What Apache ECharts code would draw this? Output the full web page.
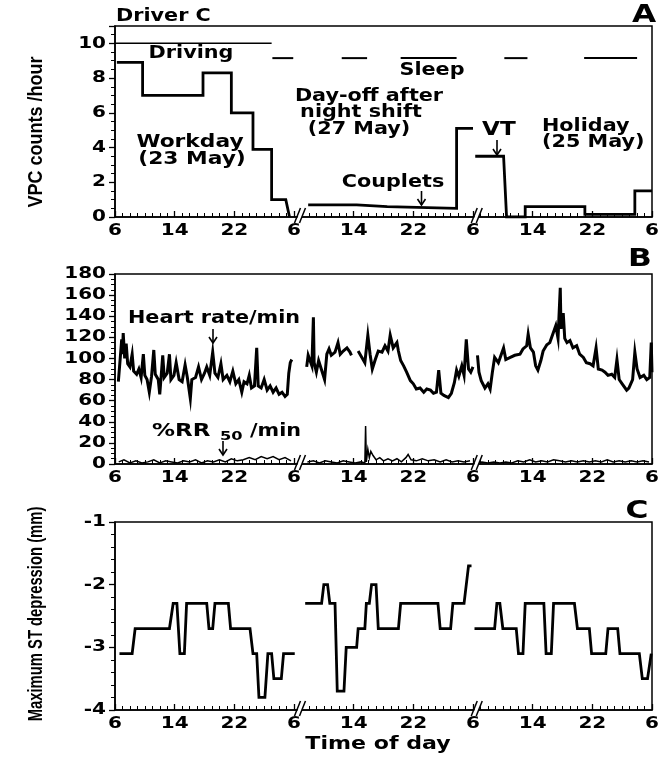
<!DOCTYPE html>
<html>
<head>
<meta charset="utf-8">
<script src="https://cdn.jsdelivr.net/npm/echarts@6/dist/echarts.min.js"></script>
<style>
  html, body { margin: 0; padding: 0; background: #fff; }
  #chart { width: 663px; height: 761px; }
</style>
</head>
<body>
<div id="chart"></div>
<script>
// Hours are counted from 06:00 of the first recording day (0..72 h, three 24 h records).
const xTickLabels = ['6', '14', '22', '6', '14', '22', '6', '14', '22', '6'];
const breakHours = [24.6, 48.3];

// Panel A: VPC counts per hour (stepwise), one array per recording
const vpcWorkday = [[0.25, 8.9], [3.7, 8.9], [3.7, 7.0], [11.8, 7.0], [11.8, 8.3], [15.6, 8.3], [15.6, 6.0],
  [18.5, 6.0], [18.5, 3.9], [21.0, 3.9], [21.0, 1.0], [22.9, 1.0], [23.4, 0]];
const vpcDayOff = [[25.9, 0.7], [32.4, 0.7], [32.4, 0.6], [36.5, 0.6], [36.5, 0.5], [45.8, 0.5], [45.8, 5.1], [48.0, 5.1]];
const vpcHoliday = [[48.3, 3.5], [52.1, 3.5], [52.5, 0], [55.0, 0], [55.0, 0.6], [63.0, 0.6], [63.0, 0.15],
  [69.7, 0.15], [69.7, 1.5], [72.0, 1.5]];
const drivingPeriods = [[0, 21.0]];
const drivingLevel = 10;
const sleepPeriods = [[21.1, 23.9], [30.4, 33.8], [38.3, 45.8], [52.2, 55.3], [62.9, 70.0]];
const sleepLevel = 9.15;

// Panel B: heart rate per minute
const hrWorkday = [[0.45, 78], [0.7, 100], [0.9, 118], [1.0, 104], [1.1, 124], [1.3, 100], [1.5, 114], [1.7, 95],
  [2.0, 92], [2.3, 104], [2.5, 88], [2.9, 85], [3.2, 90], [3.5, 82], [3.8, 104], [4.0, 84], [4.3, 80], [4.6, 68],
  [4.9, 83], [5.2, 108], [5.4, 85], [5.8, 80], [6.0, 66], [6.2, 84], [6.4, 103], [6.6, 82], [7.0, 86], [7.3, 104],
  [7.5, 80], [7.9, 84], [8.2, 96], [8.6, 80], [9.0, 78], [9.4, 94], [9.7, 82], [10.1, 62], [10.3, 80], [10.8, 82],
  [11.2, 92], [11.6, 80], [12.0, 86], [12.3, 92], [12.7, 84], [13.1, 106], [13.4, 86], [13.8, 82], [14.2, 95],
  [14.5, 80], [15.0, 84], [15.4, 78], [15.8, 88], [16.2, 76], [16.6, 80], [17.0, 68], [17.3, 78], [17.7, 76],
  [18.0, 84], [18.3, 72], [18.7, 74], [19.0, 110], [19.2, 74], [19.6, 72], [20.0, 80], [20.4, 70], [20.8, 74],
  [21.2, 68], [21.6, 72], [22.0, 66], [22.4, 68], [22.8, 64], [23.1, 66], [23.3, 86], [23.5, 96], [23.7, 99]];
const hrDayOffA = [[25.7, 92], [25.9, 103], [26.4, 93], [26.6, 139], [26.7, 96], [27.0, 87], [27.3, 98], [27.7, 89],
  [28.1, 80], [28.4, 104], [28.7, 109], [29.0, 103], [29.5, 106], [29.9, 115], [30.2, 104], [30.6, 107],
  [31.1, 110], [31.5, 106], [31.7, 103]];
const hrDayOffB = [[32.6, 107], [33.1, 101], [33.5, 96], [33.9, 122], [34.2, 104], [34.5, 90], [34.9, 99],
  [35.3, 107], [35.8, 106], [36.2, 112], [36.6, 107], [36.9, 122], [37.3, 110], [37.8, 115], [38.0, 107],
  [38.3, 98], [38.7, 93], [39.1, 87], [39.6, 79], [40.0, 76], [40.4, 71], [40.9, 72], [41.4, 68], [41.8, 71],
  [42.3, 70], [42.7, 67], [43.1, 68], [43.4, 89], [43.7, 67], [44.1, 65], [44.7, 63], [45.1, 67], [45.5, 77],
  [45.8, 89], [46.1, 83], [46.5, 93], [46.8, 84], [47.1, 118], [47.4, 90], [47.7, 87], [48.0, 92]];
const hrHoliday = [[48.6, 103], [48.8, 87], [49.1, 79], [49.6, 72], [50.0, 76], [50.3, 71], [50.6, 87], [50.9, 101],
  [51.4, 96], [51.8, 104], [52.1, 110], [52.4, 99], [53.0, 101], [53.6, 103], [54.3, 104], [54.7, 109],
  [55.2, 112], [55.4, 123], [55.7, 110], [56.1, 106], [56.4, 93], [56.7, 89], [57.1, 98], [57.4, 107],
  [57.9, 113], [58.3, 115], [58.8, 125], [59.1, 131], [59.4, 119], [59.7, 167], [59.8, 128], [60.1, 143],
  [60.3, 119], [60.6, 115], [61.0, 117], [61.4, 110], [61.9, 112], [62.3, 104], [62.8, 101], [63.2, 96],
  [63.7, 95], [64.1, 93], [64.5, 110], [64.8, 90], [65.3, 89], [65.7, 87], [66.1, 84], [66.6, 85], [67.0, 82],
  [67.3, 99], [67.6, 80], [68.0, 76], [68.6, 70], [68.9, 72], [69.4, 80], [69.7, 106], [70.0, 90], [70.4, 82],
  [70.9, 84], [71.3, 80], [71.7, 82], [71.9, 115], [72.0, 87]];

// Panel B: %RR50 per minute
const rrWorkday = [[0.5, 2], [1.2, 4], [2.0, 1], [2.8, 3], [3.6, 1], [4.4, 2], [5.2, 4], [6.0, 1], [6.8, 3], [7.6, 2],
  [8.4, 1], [9.2, 3], [10.0, 2], [10.8, 4], [11.6, 1], [12.4, 3], [13.2, 2], [14.0, 4], [14.8, 2], [15.6, 5],
  [16.4, 3], [17.2, 4], [18.0, 6], [18.8, 4], [19.6, 7], [20.4, 5], [21.2, 7], [22.0, 4], [22.8, 6], [23.6, 3]];
const rrDayOff = [[25.8, 2], [26.6, 3], [27.4, 1], [28.2, 3], [29.0, 2], [29.8, 1], [30.6, 3], [31.4, 2], [32.2, 1],
  [33.0, 2], [33.5, 1], [33.6, 36], [33.7, 2], [33.9, 14], [34.1, 6], [34.3, 12], [34.6, 8], [35.0, 4], [35.5, 6],
  [36.0, 3], [36.6, 5], [37.2, 3], [37.8, 5], [38.4, 2], [39.0, 6], [39.3, 9], [39.7, 4], [40.4, 3], [41.2, 5],
  [42.0, 3], [42.8, 4], [43.6, 2], [44.4, 4], [45.2, 2], [46.0, 3], [46.8, 2], [47.6, 3]];
const rrHoliday = [[48.4, 1], [49.2, 2], [50.0, 1], [50.8, 2], [51.6, 1], [52.4, 2], [53.2, 1], [54.0, 3], [54.8, 2],
  [55.6, 4], [56.4, 2], [57.2, 3], [58.0, 2], [58.8, 4], [59.6, 3], [60.4, 2], [61.2, 3], [62.0, 2], [62.8, 3],
  [63.6, 2], [64.4, 3], [65.2, 2], [66.0, 4], [66.8, 2], [67.6, 3], [68.4, 2], [69.2, 3], [70.0, 2], [70.8, 3],
  [71.6, 2]];

// Panel C: maximum ST depression (mm)
const stWorkday = [[0.6, -3.1], [2.3, -3.1], [2.7, -2.7], [7.3, -2.7], [7.8, -2.3], [8.3, -2.3], [8.7, -3.1],
  [9.3, -3.1], [9.6, -2.3], [12.3, -2.3], [12.6, -2.7], [13.1, -2.7], [13.4, -2.3], [15.2, -2.3], [15.5, -2.7],
  [18.1, -2.7], [18.5, -3.1], [19.0, -3.1], [19.3, -3.8], [20.1, -3.8], [20.5, -3.1], [21.0, -3.1], [21.3, -3.5],
  [22.3, -3.5], [22.6, -3.1], [24.1, -3.1]];
const stDayOff = [[25.5, -2.3], [27.7, -2.3], [28.0, -2.0], [28.5, -2.0], [28.8, -2.3], [29.5, -2.3], [29.8, -3.7],
  [30.7, -3.7], [31.0, -3.0], [32.4, -3.0], [32.6, -2.7], [33.5, -2.7], [33.7, -2.3], [34.1, -2.3], [34.4, -2.0],
  [35.0, -2.0], [35.3, -2.7], [38.0, -2.7], [38.3, -2.3], [43.3, -2.3], [43.6, -2.7], [45.0, -2.7], [45.3, -2.3],
  [46.8, -2.3], [47.4, -1.7], [47.8, -1.7]];
const stHoliday = [[48.2, -2.7], [50.9, -2.7], [51.2, -2.3], [51.6, -2.3], [52.0, -2.7], [53.8, -2.7], [54.1, -3.1],
  [54.7, -3.1], [55.0, -2.3], [57.5, -2.3], [57.8, -3.1], [58.5, -3.1], [58.8, -2.3], [61.6, -2.3], [62.0, -2.7],
  [63.6, -2.7], [63.9, -3.1], [65.8, -3.1], [66.1, -2.7], [67.4, -2.7], [67.7, -3.1], [70.3, -3.1], [70.7, -3.5],
  [71.4, -3.5], [71.9, -3.1]];

// Axis ranges; labelMax is the highest value that gets a tick label
const yRanges = [
  { min: 0, max: 11, interval: 2, minor: 4, labelMax: 10 },
  { min: 0, max: 180, interval: 20, minor: 4, labelMax: 180 },
  { min: -4, max: -1, interval: 1, minor: 5, labelMax: -1 }
];

const BOLD = '"DejaVu Sans", "Liberation Sans", sans-serif';
const NARROW = '"Liberation Sans", Arial, sans-serif';
const chart = echarts.init(document.getElementById('chart'), null, { renderer: 'canvas' });

const grids = [
  { left: 115, right: 11, top: 26, height: 191 },
  { left: 115, right: 11, top: 274, height: 190 },
  { left: 115, right: 11, top: 522, height: 188 }
].map(g => Object.assign(g, { show: true, borderColor: '#000', borderWidth: 1.5, backgroundColor: 'transparent' }));

// Tick labels are drawn as stretched graphic text (see below), so axis labels stay hidden.
const xAxes = grids.map((g, i) => ({
  type: 'value', gridIndex: i, min: 0, max: 72, interval: 8,
  axisLine: { show: true, onZero: false, lineStyle: { color: '#000', width: 1.5 } },
  axisTick: { show: true, inside: true, length: 6, lineStyle: { color: '#000', width: 1.3 } },
  minorTick: { show: true, splitNumber: 8, length: 4, lineStyle: { color: '#000', width: 1 } },
  splitLine: { show: false },
  axisLabel: { show: false }
}));

const yAxes = yRanges.map((r, i) => ({
  type: 'value', gridIndex: i, min: r.min, max: r.max, interval: r.interval,
  axisLine: { show: true, onZero: false, lineStyle: { color: '#000', width: 1.5 } },
  axisTick: { show: true, inside: false, length: 6, lineStyle: { color: '#000', width: 1.3 } },
  minorTick: { show: true, splitNumber: r.minor, length: 4, lineStyle: { color: '#000', width: 1 } },
  splitLine: { show: false },
  axisLabel: { show: false }
}));

function trace(data, axis, width) {
  return {
    type: 'line', xAxisIndex: axis, yAxisIndex: axis, data: data,
    symbol: 'none', showSymbol: false, silent: true, animation: false,
    lineStyle: { color: '#000', width: width, join: 'miter' }, z: 3
  };
}

const series = [];
[vpcWorkday, vpcDayOff, vpcHoliday].forEach(d => series.push(trace(d, 0, 2.8)));
drivingPeriods.forEach(p => series.push(trace([[p[0], drivingLevel], [p[1], drivingLevel]], 0, 1.5)));
sleepPeriods.forEach(p => series.push(trace([[p[0], sleepLevel], [p[1], sleepLevel]], 0, 2)));
[hrWorkday, hrDayOffA, hrDayOffB, hrHoliday].forEach(d => series.push(trace(d, 1, 3)));
[rrWorkday, rrDayOff, rrHoliday].forEach(d => series.push(trace(d, 1, 1.5)));
[stWorkday, stDayOff, stHoliday].forEach(d => series.push(trace(d, 2, 2.8)));

// Axis-break marks ("//") drawn on each time axis
yRanges.forEach((r, i) => {
  series.push({
    type: 'custom', xAxisIndex: i, yAxisIndex: i, silent: true, animation: false, clip: false, z: 10,
    data: breakHours.map(h => [h, r.min]),
    renderItem: (params, api) => {
      const p = api.coord([api.value(0), api.value(1)]);
      const x = p[0], y = p[1];
      return {
        type: 'group', children: [
          { type: 'polygon', shape: { points: [[x - 3, y + 5], [x + 3, y - 8], [x + 7, y - 8], [x + 1, y + 5]] }, style: { fill: '#fff' } },
          { type: 'line', shape: { x1: x - 4, y1: y + 6, x2: x + 2, y2: y - 9 }, style: { stroke: '#000', lineWidth: 1.5 } },
          { type: 'line', shape: { x1: x + 1, y1: y + 6, x2: x + 7, y2: y - 9 }, style: { stroke: '#000', lineWidth: 1.5 } }
        ]
      };
    }
  });
});

// Text annotations and arrows
const F = size => 'bold ' + size + 'px ' + BOLD;
function label(text, x, y, opt) {
  opt = opt || {};
  const align = opt.align || 'left';
  return {
    type: 'text', x: x, y: y, scaleX: opt.sx || 1.22, rotation: opt.rot || 0, z: 20, silent: true,
    style: {
      text: text, font: opt.font || F(17), fill: '#000',
      textAlign: align, textVerticalAlign: 'middle', align: align, verticalAlign: 'middle'
    }
  };
}
function arrow(x, y1, y2) {
  return {
    type: 'group', silent: true, z: 20, children: [
      { type: 'line', shape: { x1: x, y1: y1, x2: x, y2: y2 }, style: { stroke: '#000', lineWidth: 1.6 } },
      { type: 'polyline', shape: { points: [[x - 4, y2 - 6], [x, y2], [x + 4, y2 - 6]] }, style: { stroke: '#000', lineWidth: 1.6, fill: null } }
    ]
  };
}

const graphics = [
  label('Driver C', 116, 17, {}),
  label('A', 644, 15, { align: 'center', font: F(25), sx: 1.25 }),
  label('Driving', 191, 54, { align: 'center' }),
  label('Sleep', 432, 71, { align: 'center' }),
  label('Day-off after', 369, 97, { align: 'center' }),
  label('night shift', 361, 113, { align: 'center' }),
  label('(27 May)', 359, 130, { align: 'center' }),
  label('Workday', 190, 143, { align: 'center', sx: 1.28 }),
  label('(23 May)', 192, 160, { align: 'center', sx: 1.28 }),
  label('Couplets', 393, 183, { align: 'center' }),
  arrow(421.5, 191, 205),
  label('VT', 499, 130, { align: 'center', font: F(19) }),
  arrow(497, 140, 155),
  label('Holiday', 542, 127, {}),
  label('(25 May)', 542, 143, {}),

  label('B', 640, 259, { align: 'center', font: F(25), sx: 1.25 }),
  label('Heart rate/min', 128, 319, {}),
  arrow(213, 329, 343),
  label('%RR', 152, 432, { sx: 1.35 }),
  label('50', 220, 437, { font: F(13), sx: 1.25 }),
  label('/min', 250, 432, {}),
  arrow(223, 441, 455),

  label('C', 637, 511, { align: 'center', font: F(25), sx: 1.25 }),

  label('VPC counts /hour', 36, 132, { align: 'center', rot: Math.PI / 2, font: 'bold 20px ' + NARROW, sx: 0.9 }),
  label('Maximum ST depression (mm)', 36, 614, { align: 'center', rot: Math.PI / 2, font: 'bold 20px ' + NARROW, sx: 0.74 }),
  label('Time of day', 378, 745, { align: 'center', sx: 1.3 })
];

chart.setOption({
  animation: false,
  backgroundColor: '#fff',
  grid: grids,
  xAxis: xAxes,
  yAxis: yAxes,
  series: series,
  graphic: graphics
});

// Tick labels placed through each grid's own scales, in a wide bold face
const tickText = [];
yRanges.forEach((r, i) => {
  for (let v = r.min; v <= r.labelMax + 1e-9; v += r.interval) {
    const p = chart.convertToPixel({ gridIndex: i }, [0, v]);
    tickText.push(label(String(v), p[0] - 9, p[1], { align: 'right', font: F(16), sx: 1.25 }));
  }
  xTickLabels.forEach((t, k) => {
    const p = chart.convertToPixel({ gridIndex: i }, [k * 8, r.min]);
    tickText.push(label(t, p[0], p[1] + 14, { align: 'center', font: F(16), sx: 1.25 }));
  });
});
chart.setOption({ graphic: graphics.concat(tickText) });
</script>
</body>
</html>
